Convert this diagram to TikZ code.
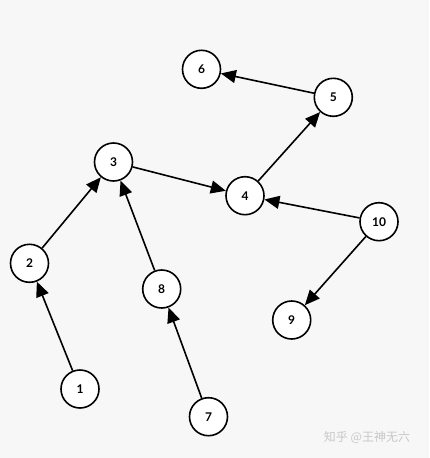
\documentclass[tikz,border=0pt]{standalone}
\usepackage{fontspec}
\setmainfont{Lato}
\newfontfamily\cjk{Noto Sans CJK SC}
\usetikzlibrary{arrows.meta}
\definecolor{bgcol}{HTML}{F7F7F7}
\definecolor{markcol}{HTML}{C8C8C8}

\begin{document}
\begin{tikzpicture}[x=1pt,y=-1pt,
		vert/.style={circle,draw,line width=1.6pt,fill=white,minimum size=38pt,inner sep=0pt,font=\fontsize{12}{12}\selectfont\bfseries},
		every edge/.style={draw,line width=1.6pt,-{Triangle[length=15pt,width=13pt]}}]
		\fill[bgcol] (0,0) rectangle (429,458);
		\node[vert] (N6) at (201.5,69.3) {6};
		\node[vert] (N5) at (333.3,97.3) {5};
		\node[vert] (N3) at (113.5,162) {3};
		\node[vert] (N4) at (245,195.7) {4};
		\node[vert] (N10) at (379,221.7) {10};
		\node[vert] (N2) at (29.5,263.3) {2};
		\node[vert] (N8) at (161.7,289) {8};
		\node[vert] (N9) at (291.7,320) {9};
		\node[vert] (N1) at (80,389) {1};
		\node[vert] (N7) at (208.5,416.7) {7};
		\path (N1) edge (N2)
			(N2) edge (N3)
			(N8) edge (N3)
			(N7) edge (N8)
			(N3) edge (N4)
			(N4) edge (N5)
			(N5) edge (N6)
			(N10) edge (N4)
			(N10) edge (N9)
			;
		\node[text=markcol,font=\cjk\fontsize{12}{12}\selectfont] (mark) at (367,437) {知乎 @王神无六};
	\end{tikzpicture}
\end{document}
